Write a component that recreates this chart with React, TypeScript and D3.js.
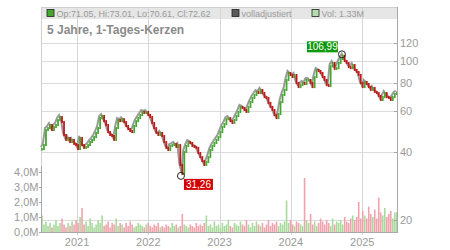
import * as d3 from "d3";
import { useEffect, useRef } from "react";

const closes = [
  41.0, 42.7, 49.7, 50.7, 52.3, 49.7, 51.3, 52.3, 55.0, 56.7, 53.9, 47.3, 45.0, 45.9, 44.0, 45.0, 43.2, 42.7,
  41.0, 45.9, 42.7, 41.5, 41.9, 42.7, 44.0, 45.0, 46.3, 48.3, 50.7, 56.1, 57.3, 54.4, 52.3, 48.7, 47.3, 46.8,
  45.0, 50.7, 55.0, 54.4, 55.5, 53.9, 51.8, 50.2, 49.2, 48.7, 51.8, 54.4, 56.1, 57.9, 59.7, 59.1, 59.7, 57.9,
  56.7, 53.4, 50.7, 48.3, 47.3, 48.3, 46.8, 44.0, 41.5, 40.6, 42.3, 42.7, 43.2, 41.9, 42.7, 34.9, 31.9, 39.8,
  42.3, 44.0, 43.6, 42.3, 41.9, 41.5, 39.4, 37.8, 36.3, 34.9, 36.0, 37.8, 40.6, 42.3, 43.6, 45.0, 46.3, 48.7,
  51.3, 52.8, 55.5, 56.1, 54.4, 53.4, 55.0, 57.3, 59.7, 62.8, 62.2, 60.9, 59.7, 62.8, 66.0, 68.8, 70.9, 73.1,
  72.3, 74.6, 72.3, 69.4, 68.8, 65.4, 62.8, 60.9, 57.9, 56.1, 58.5, 66.0, 70.9, 74.6, 82.5, 88.6, 86.8, 85.0,
  86.8, 80.0, 76.8, 78.4, 80.0, 79.2, 82.5, 82.5, 80.0, 76.8, 85.0, 91.3, 90.3, 88.6, 85.0, 82.5, 78.4, 77.6,
  95.0, 98.0, 92.3, 93.0, 98.0, 102.0, 105.5, 100.0, 98.0, 94.0, 93.0, 96.0, 91.3, 89.4, 86.8, 80.0, 76.8, 80.9,
  79.2, 76.8, 74.6, 76.1, 73.1, 72.3, 70.2, 67.4, 69.4, 72.3, 69.4, 68.8, 67.4, 69.4, 71.6, 72.62,
];

// volume in millions, same sampling
const volumes = [
  1.1, 0.5, 0.7, 0.4, 0.6, 0.3, 0.5, 0.8, 0.4, 0.6, 0.9, 0.5, 0.3, 0.6, 0.4, 0.7, 0.5, 0.8,
  0.6, 1.0, 1.6, 0.5, 0.7, 0.4, 0.9, 0.6, 0.3, 0.5, 0.8, 0.6, 1.1, 0.4, 0.5, 0.7, 0.3, 0.6, 0.5, 0.9, 0.4, 0.6,
  0.5, 0.3, 0.6, 0.4, 0.7, 0.5, 0.3, 0.4, 0.6, 0.5, 0.4, 0.3, 0.5, 0.6, 0.4, 0.3, 0.5, 0.4, 0.6, 0.3,
  0.4, 0.3, 0.5, 0.4, 0.3, 0.6, 0.4, 0.5, 0.3, 0.4, 1.2, 0.5, 0.4, 0.3, 0.5, 0.4, 0.3, 0.6, 0.4, 0.5,
  0.4, 0.6, 1.1, 0.4, 0.5, 0.3, 0.7, 0.4, 0.5, 0.3, 0.6, 0.4, 0.5, 0.8, 0.4, 0.3, 0.6, 0.5, 0.4, 0.7,
  0.5, 0.4, 0.8, 0.5, 0.3, 0.6, 0.4, 0.7, 0.5, 0.4, 0.6, 0.3, 0.5, 0.8, 0.4, 0.6, 0.5, 0.7, 0.4, 0.6,
  0.5, 0.7, 2.1, 0.6, 0.8, 0.5, 0.4, 0.7, 0.6, 0.5, 0.4, 3.6, 0.8, 0.6, 1.2, 0.5, 0.7, 0.4, 0.6, 0.9,
  0.7, 0.5, 0.8, 0.6, 0.4, 0.9, 0.5, 0.7, 0.6, 0.8, 0.5, 1.0, 0.7, 0.6, 0.9, 1.1, 0.8, 1.0, 2.0, 0.9,
  1.4, 1.1, 0.9, 1.7, 1.2, 1.0, 1.5, 0.9, 2.3, 1.3, 1.1, 1.6, 1.0, 1.2, 1.4, 0.9, 1.3, 1.33,
];

const firstDate = new Date(2020, 6, 5);
const lastDate = new Date(2025, 5, 27);
const priceTicks = [20, 40, 60, 80, 100, 120];
const volumeTicks = [0, 1, 2, 3, 4];
const yearTicks = [2021, 2022, 2023, 2024, 2025];
const highPoint = { date: new Date(2024, 8, 19), value: 106.99 };
const lowPoint = { date: new Date(2022, 5, 17), value: 31.26 };
const legendLabels = ["Op:71.05, Hi:73.01, Lo:70.61, Cl:72.62", "volladjustiert", "Vol: 1.33M"];
const title = "5 Jahre, 1-Tages-Kerzen";

const FONT = "'Liberation Sans', Arial, sans-serif";
const UP = "#44a830";
const DOWN = "#c41818";

const App = () => {
  const ref = useRef<SVGSVGElement>(null);

  useEffect(() => {
    const svg = d3.select(ref.current);
    svg.selectAll("*").remove();

    const left = 41;
    const right = 397;
    const top = 7;
    const bottom = 232;

    const step = (lastDate.getTime() - firstDate.getTime()) / (closes.length - 1);
    const data = closes.map((c, i) => ({
      date: new Date(firstDate.getTime() + i * step),
      open: i === 0 ? c : closes[i - 1],
      close: c,
      volume: volumes[i],
    }));

    const x = d3
      .scaleTime()
      .domain([new Date(2020, 5, 30), new Date(2025, 5, 28)])
      .range([left, right]);
    const y = d3.scaleLog().domain([20, 120]).range([220, 43]);
    const yv = d3.scaleLinear().domain([0, 4]).range([bottom, 172]);

    const fmt = (v: number, p: string) => d3.format(p)(v).replace(".", ",");

    // legend band
    svg
      .append("rect")
      .attr("x", left)
      .attr("y", top)
      .attr("width", right - left)
      .attr("height", 12)
      .attr("fill", "#e6e6e6");

    // grid
    svg
      .append("g")
      .selectAll("line")
      .data(priceTicks)
      .join("line")
      .attr("x1", left)
      .attr("x2", right)
      .attr("y1", (d) => Math.round(y(d)) + 0.5)
      .attr("y2", (d) => Math.round(y(d)) + 0.5)
      .attr("stroke", "#dcdcdc");
    svg
      .append("g")
      .selectAll("line")
      .data(yearTicks)
      .join("line")
      .attr("x1", (d) => Math.round(x(new Date(d, 0, 1))) + 0.5)
      .attr("x2", (d) => Math.round(x(new Date(d, 0, 1))) + 0.5)
      .attr("y1", top)
      .attr("y2", bottom + 3)
      .attr("stroke", "#d6d6d6");

    // frame
    svg
      .append("rect")
      .attr("x", left + 0.5)
      .attr("y", top + 0.5)
      .attr("width", right - left)
      .attr("height", bottom - top)
      .attr("fill", "none")
      .attr("stroke", "#cfcfcf");

    // legend
    const legendX = [47, 232, 312];
    const legendColors = [UP, "#5a5a5a", "#b4dcac"];
    const lg = svg
      .append("g")
      .selectAll("g")
      .data(legendLabels)
      .join("g")
      .attr("transform", (_, i) => `translate(${legendX[i]},9.5)`);
    lg.append("rect")
      .attr("width", 7)
      .attr("height", 7)
      .attr("fill", (_, i) => legendColors[i])
      .attr("stroke", "#222")
      .attr("stroke-width", 0.8);
    lg.append("text")
      .attr("x", 9.5)
      .attr("y", 7)
      .attr("font-family", FONT)
      .attr("font-size", 9)
      .attr("fill", "#9a9a9a")
      .text((d) => d);

    svg
      .append("text")
      .attr("x", 47)
      .attr("y", 34)
      .attr("font-family", FONT)
      .attr("font-size", 12)
      .attr("font-weight", "bold")
      .attr("fill", "#8a8a8a")
      .text(title);

    // volume bars
    svg
      .append("g")
      .selectAll("rect")
      .data(data)
      .join("rect")
      .attr("x", (d) => x(d.date) - 0.8)
      .attr("width", 1.6)
      .attr("y", (d) => yv(d.volume))
      .attr("height", (d) => bottom - yv(d.volume))
      .attr("fill", (d) => (d.close >= d.open ? "#a8da9c" : "#f2a2ac"));

    // adjusted line
    const line = d3
      .line<(typeof data)[number]>()
      .x((d) => x(d.date))
      .y((d) => y(d.close));
    svg
      .append("path")
      .datum(data)
      .attr("d", line)
      .attr("fill", "none")
      .attr("stroke", "#9a9a9a")
      .attr("stroke-width", 2)
      .attr("transform", "translate(-1,-2)");

    // candles
    svg
      .append("g")
      .selectAll("rect")
      .data(data)
      .join("rect")
      .attr("x", (d) => x(d.date) - 0.9)
      .attr("width", 1.8)
      .attr("y", (d) => y(Math.max(d.open, d.close)) - 1)
      .attr("height", (d) => Math.max(2.5, Math.abs(y(d.open) - y(d.close)) + 2))
      .attr("fill", (d) => (d.close >= d.open ? UP : DOWN));

    // axes
    const axisColor = "#a8a8a8";
    const labelColor = "#9a9a9a";
    svg
      .append("line")
      .attr("x1", right + 0.5)
      .attr("x2", right + 0.5)
      .attr("y1", top)
      .attr("y2", bottom + 1)
      .attr("stroke", axisColor);
    const ra = svg.append("g").selectAll("g").data(priceTicks).join("g");
    ra.append("line")
      .attr("x1", right - 3)
      .attr("x2", right)
      .attr("y1", (d) => Math.round(y(d)) + 0.5)
      .attr("y2", (d) => Math.round(y(d)) + 0.5)
      .attr("stroke", axisColor);
    ra.append("text")
      .attr("x", right + 3)
      .attr("y", (d) => y(d) + 4)
      .attr("font-family", FONT)
      .attr("font-size", 11)
      .attr("fill", labelColor)
      .text((d) => d);

    svg
      .append("line")
      .attr("x1", left + 0.5)
      .attr("x2", left + 0.5)
      .attr("y1", 166)
      .attr("y2", bottom + 1)
      .attr("stroke", axisColor);
    const la = svg.append("g").selectAll("g").data(volumeTicks).join("g");
    la.append("line")
      .attr("x1", left - 2)
      .attr("x2", left + 1)
      .attr("y1", (d) => Math.round(yv(d)) + 0.5)
      .attr("y2", (d) => Math.round(yv(d)) + 0.5)
      .attr("stroke", axisColor);
    la.append("text")
      .attr("x", left - 2.5)
      .attr("y", (d) => yv(d) + 4)
      .attr("text-anchor", "end")
      .attr("font-family", FONT)
      .attr("font-size", 11)
      .attr("fill", labelColor)
      .text((d) => `${fmt(d, ".1f")}M`);

    svg
      .append("line")
      .attr("x1", left)
      .attr("x2", right + 1)
      .attr("y1", bottom + 0.5)
      .attr("y2", bottom + 0.5)
      .attr("stroke", axisColor);
    svg
      .append("g")
      .selectAll("text")
      .data(yearTicks)
      .join("text")
      .attr("x", (d) => x(new Date(d, 0, 1)))
      .attr("y", 246)
      .attr("text-anchor", "middle")
      .attr("font-family", FONT)
      .attr("font-size", 11)
      .attr("fill", labelColor)
      .text((d) => d);

    // high / low markers
    const marks = [
      { p: highPoint, fill: "#0e9a0e", dx: -35, dy: -13, w: 31 },
      { p: lowPoint, fill: "#d40000", dx: 3, dy: 3, w: 29 },
    ];
    const mk = svg.append("g").selectAll("g").data(marks).join("g");
    mk.append("circle")
      .attr("cx", (d) => x(d.p.date))
      .attr("cy", (d) => y(d.p.value))
      .attr("r", 3.5)
      .attr("fill", "none")
      .attr("stroke", "#222")
      .attr("stroke-width", 1);
    mk.append("rect")
      .attr("x", (d) => x(d.p.date) + d.dx)
      .attr("y", (d) => y(d.p.value) + d.dy)
      .attr("width", (d) => d.w)
      .attr("height", 11)
      .attr("fill", (d) => d.fill);
    mk.append("text")
      .attr("x", (d) => x(d.p.date) + d.dx + d.w / 2)
      .attr("y", (d) => y(d.p.value) + d.dy + 9)
      .attr("text-anchor", "middle")
      .attr("font-family", FONT)
      .attr("font-size", 10)
      .attr("fill", "#fff")
      .text((d) => fmt(d.p.value, ".2f"));
  }, []);

  return (
    <svg
      ref={ref}
      width={450}
      height={250}
      style={{ position: "absolute", left: 0, top: 0, background: "#fff" }}
    />
  );
};

export default App;
